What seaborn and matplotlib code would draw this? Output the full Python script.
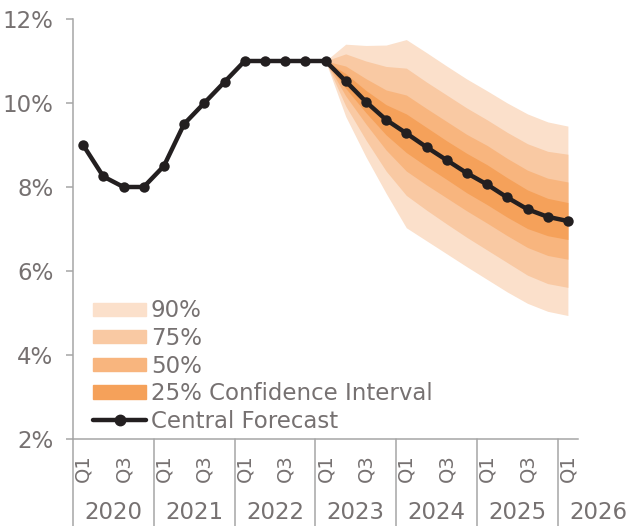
import matplotlib
matplotlib.use("Agg")
import matplotlib.pyplot as plt
import matplotlib.transforms as mtransforms
from matplotlib.lines import Line2D
import matplotlib.patches as mpatches
import numpy as np
import pandas as pd
import seaborn as sns

# ── Data ─────────────────────────────────────────────────────────────────────
years = ["2020", "2021", "2022", "2023", "2024", "2025", "2026"]
quarters = ["Q1", "Q2", "Q3", "Q4"] * 6 + ["Q1"]

central = [9.0, 8.25, 8.0, 8.0, 8.5, 9.5, 10.0, 10.5,
           11.0, 11.0, 11.0, 11.0, 11.0, 10.52, 10.03, 9.6,
           9.28, 8.95, 8.64, 8.33, 8.06, 7.75, 7.47, 7.29, 7.19]

# fan starts at 2023 Q1 (index 12)
fan_start = 12
ci90_hi = [11.0, 11.40, 11.37, 11.38, 11.51, 11.20, 10.88, 10.57, 10.29, 10.0, 9.74, 9.55, 9.45]
ci90_lo = [11.0, 9.68, 8.72, 7.85, 7.03, 6.72, 6.41, 6.10, 5.80, 5.50, 5.23, 5.04, 4.94]
ci75_hi = [11.0, 11.17, 11.0, 10.87, 10.83, 10.50, 10.19, 9.88, 9.60, 9.30, 9.03, 8.85, 8.78]
ci75_lo = [11.0, 9.93, 9.12, 8.38, 7.80, 7.45, 7.12, 6.80, 6.50, 6.20, 5.90, 5.70, 5.61]
ci50_hi = [11.0, 10.88, 10.58, 10.31, 10.19, 9.87, 9.56, 9.25, 8.99, 8.68, 8.40, 8.21, 8.12]
ci50_lo = [11.0, 10.17, 9.50, 8.88, 8.38, 8.05, 7.74, 7.43, 7.14, 6.84, 6.56, 6.37, 6.28]
ci25_hi = [11.0, 10.70, 10.30, 9.96, 9.74, 9.42, 9.10, 8.80, 8.53, 8.22, 7.93, 7.73, 7.63]
ci25_lo = [11.0, 10.35, 9.77, 9.24, 8.82, 8.49, 8.18, 7.86, 7.58, 7.28, 7.01, 6.84, 6.75]

band_labels = ["90%", "75%", "50%", "25% Confidence Interval"]

# ── Style ────────────────────────────────────────────────────────────────────
TEXT_GRAY = "#767171"
AXIS_GRAY = "#A6A6A6"
LINE_COLOR = "#231F20"
BAND_COLORS = ["#FBE0CB", "#F9C9A3", "#F8B57E", "#F5A15A"]
FS = 16.5

sns.set_style("white")
plt.rcParams["font.family"] = ["DejaVu Sans"]

fig = plt.figure(figsize=(6.28, 5.26), dpi=100)
ax = fig.add_axes([73 / 628, 1 - 439 / 526, 505 / 628, 420 / 526])

df = pd.DataFrame({"idx": np.arange(len(central)), "value": central})
fx = df["idx"].values[fan_start:]

bands = [(ci90_lo, ci90_hi), (ci75_lo, ci75_hi), (ci50_lo, ci50_hi), (ci25_lo, ci25_hi)]
for (lo, hi), col in zip(bands, BAND_COLORS):
    ax.fill_between(fx, lo, hi, color=col, linewidth=0, zorder=1)

sns.lineplot(data=df, x="idx", y="value", ax=ax, color=LINE_COLOR, linewidth=3.2,
             marker="o", markersize=7.5, markeredgewidth=0, zorder=3)

# ── Axes ─────────────────────────────────────────────────────────────────────
ax.set_xlim(-0.5, 24.5)
ax.set_ylim(2, 12)
ax.set_yticks(range(2, 13, 2))
ax.set_yticklabels([f"{v}%" for v in range(2, 13, 2)])
ax.set_xlabel("")
ax.set_ylabel("")

qpos = [i for i, q in enumerate(quarters) if q in ("Q1", "Q3")]
ax.set_xticks(qpos)
ax.set_xticklabels([quarters[i] for i in qpos], rotation=90, va="top")

ax.tick_params(axis="y", length=5, width=1.1, color=AXIS_GRAY, pad=9,
               labelsize=FS, labelcolor=TEXT_GRAY, left=True)
ax.tick_params(axis="x", length=0, pad=11, labelsize=14, labelcolor=TEXT_GRAY)

ax.spines[["top", "right"]].set_visible(False)
for s in ("left", "bottom"):
    ax.spines[s].set_color(AXIS_GRAY)
    ax.spines[s].set_linewidth(1.1)

# year group labels and separators below the axis
trans = mtransforms.blended_transform_factory(ax.transData, ax.transAxes)
for k, yr in enumerate(years):
    ax.text(4 * k + 1.5, -0.176, yr, transform=trans, ha="center", va="center",
            fontsize=FS, color=TEXT_GRAY, clip_on=False)
    ax.plot([4 * k - 0.5, 4 * k - 0.5], [0, -0.21], transform=trans,
            color=AXIS_GRAY, linewidth=1.1, clip_on=False)

# ── Legend ───────────────────────────────────────────────────────────────────
handles = [mpatches.Patch(color=c, label=l) for c, l in zip(BAND_COLORS, band_labels)]
handles.append(Line2D([], [], color=LINE_COLOR, linewidth=3.2, marker="o",
                      markersize=7.5, label="Central Forecast"))
leg = ax.legend(handles=handles, loc="lower left", bbox_to_anchor=(0.04, 0.015),
                frameon=False, fontsize=FS, handlelength=2.3, handleheight=0.5,
                handletextpad=0.22, labelspacing=0.2, borderpad=0, borderaxespad=0)
for t in leg.get_texts():
    t.set_color(TEXT_GRAY)

fig.savefig("out.png", dpi=100)
